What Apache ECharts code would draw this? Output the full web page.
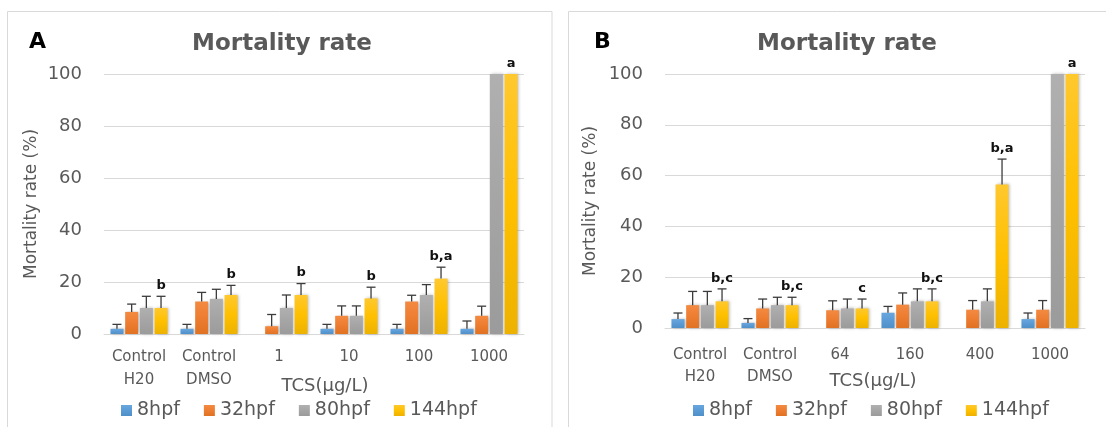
<!DOCTYPE html>
<html><head><meta charset="utf-8">
<script src="https://cdn.jsdelivr.net/npm/echarts@6/dist/echarts.min.js"></script>
<style>html,body{margin:0;padding:0;background:#fff}#c{width:1106px;height:427px}</style>
</head><body><div id="c"></div>
<script>
// ---- data ----
const seriesNames = ['8hpf', '32hpf', '80hpf', '144hpf'];
const categoriesA = ['Control\nH20', 'Control\nDMSO', '1', '10', '100', '1000'];
const categoriesB = ['Control\nH20', 'Control\nDMSO', '64', '160', '400', '1000'];
const yTicks = [0, 20, 40, 60, 80, 100];

const a8 = [2, 2, 0, 2, 2, 2];
const a8err = [1.7, 1.7, 0, 1.7, 1.7, 3];
const a32 = [8.5, 12.5, 3, 7, 12.5, 7];
const a32err = [3, 3.5, 4.5, 3.8, 2.4, 3.7];
const a80 = [10, 13.5, 10, 7, 15, 100];
const a80err = [4.5, 3.7, 5, 3.8, 4, 0];
const a144 = [10, 15, 15, 13.7, 21.3, 100];
const a144err = [4.5, 3.7, 4.4, 4.3, 4.4, 0];
const lettersA = ['b', 'b', 'b', 'b', 'b,a', 'a'];

const b8 = [3.5, 2, 0, 6, 0, 3.5];
const b8err = [2.4, 1.7, 0, 2.5, 0, 2.4];
const b32 = [9, 7.7, 7, 9.2, 7.2, 7.2];
const b32err = [5.4, 3.7, 3.7, 4.6, 3.6, 3.6];
const b80 = [9, 9, 7.7, 10.5, 10.5, 100];
const b80err = [5.4, 3.1, 3.7, 4.9, 4.9, 0];
const b144 = [10.5, 9, 7.7, 10.5, 56.5, 100];
const b144err = [4.9, 3.1, 3.7, 4.9, 10, 0];
const lettersB = ['b,c', 'b,c', 'c', 'b,c', 'b,a', 'a'];

// ---- styles ----
const FONT = 'DejaVu Sans';
const TXT = '#595959';
const GRID_LINE = '#d9d9d9';
const baseColors = ['#5B9BD5', '#ED7D31', '#A5A5A5', '#FFC000'];
const topColors = ['#68A6DE', '#F38A41', '#B0B0B0', '#FFC82E'];
const botColors = ['#5090C8', '#E07223', '#9B9B9B', '#EDB200'];
const BAR_W = 13, BAR_GAP = 0.13;
const STRIDE = BAR_W * (1 + BAR_GAP);

function barStyle(k) {
  return {
    color: new echarts.graphic.LinearGradient(0, 0, 0, 1, [
      {offset: 0, color: topColors[k]}, {offset: 0.5, color: baseColors[k]}, {offset: 1, color: botColors[k]}
    ]),
    shadowBlur: 3, shadowColor: 'rgba(0,0,0,0.28)', shadowOffsetX: 1.5, shadowOffsetY: 0
  };
}

function errRender(k, letters) {
  return function (params, api) {
    const i = api.value(0), v = api.value(1), e = api.value(2);
    const base = api.coord([i, v]);
    const top = api.coord([i, v + e]);
    const x = base[0] + (k - 1.5) * STRIDE;
    const ch = [];
    if (e > 0) {
      ch.push({type: 'line', shape: {x1: x, y1: base[1], x2: x, y2: top[1]}, style: {stroke: '#3c3c3c', lineWidth: 1.3}});
      ch.push({type: 'line', shape: {x1: x - 4.5, y1: top[1], x2: x + 4.5, y2: top[1]}, style: {stroke: '#3c3c3c', lineWidth: 1.3}});
    }
    const lab = letters ? letters[i] : '';
    if (lab) {
      ch.push({type: 'text', style: {text: lab, x: x, y: top[1] - 4, align: 'center', verticalAlign: 'bottom',
        font: 'bold 13px "' + FONT + '"', fill: '#111'}});
    }
    return {type: 'group', children: ch};
  };
}

function panelSeries(axisIdx, vals, errs, letters) {
  const out = [];
  vals.forEach((arr, k) => {
    out.push({
      name: seriesNames[k], type: 'bar', xAxisIndex: axisIdx, yAxisIndex: axisIdx,
      data: arr, barWidth: BAR_W, barGap: (BAR_GAP * 100) + '%',
      itemStyle: barStyle(k), emphasis: {disabled: true}, z: 2
    });
  });
  vals.forEach((arr, k) => {
    out.push({
      name: 'err' + axisIdx + '_' + k, type: 'custom', xAxisIndex: axisIdx, yAxisIndex: axisIdx,
      data: arr.map((v, i) => [i, v, errs[k][i]]),
      encode: {x: 0, y: 1}, renderItem: errRender(k, k === 3 ? letters : null), clip: false, z: 4,
      silent: true
    });
  });
  return out;
}

function xAxisCfg(idx, cats, margin, lh) {
  return {
    type: 'category', gridIndex: idx, data: cats,
    axisLine: {lineStyle: {color: GRID_LINE, width: 1}}, axisTick: {show: false},
    axisLabel: {color: TXT, fontFamily: FONT, fontSize: 15, lineHeight: lh, margin: margin, interval: 0}
  };
}
function yAxisCfg(idx, gap) {
  return {
    type: 'value', gridIndex: idx, min: yTicks[0], max: yTicks[yTicks.length - 1],
    interval: yTicks[1] - yTicks[0],
    axisLine: {show: false}, axisTick: {show: false},
    splitLine: {lineStyle: {color: GRID_LINE, width: 1}},
    axisLabel: {color: TXT, fontFamily: FONT, fontSize: 18, margin: 22},
    name: 'Mortality rate (%)', nameLocation: 'middle', nameGap: gap,
    nameTextStyle: {color: TXT, fontFamily: FONT, fontSize: 17}
  };
}
function legendCfg(left) {
  return {
    data: seriesNames, left: left, top: 401, padding: 0, itemWidth: 11, itemHeight: 11, itemGap: 24,
    icon: 'rect', selectedMode: false,
    itemStyle: {shadowBlur: 0, shadowOffsetX: 0},
    textStyle: {color: TXT, fontFamily: FONT, fontSize: 19}
  };
}

const chart = echarts.init(document.getElementById('c'));
chart.setOption({
  animation: false,
  backgroundColor: '#fff',
  color: baseColors,
  title: [
    {text: 'Mortality rate', left: 282, top: 33, textAlign: 'center', padding: 0,
      textStyle: {color: TXT, fontFamily: FONT, fontWeight: 'bold', fontSize: 23}},
    {text: 'Mortality rate', left: 847, top: 33, textAlign: 'center', padding: 0,
      textStyle: {color: TXT, fontFamily: FONT, fontWeight: 'bold', fontSize: 23}}
  ],
  grid: [
    {left: 104, top: 74, width: 420, height: 260},
    {left: 665, top: 74, width: 420, height: 254}
  ],
  xAxis: [xAxisCfg(0, categoriesA, 12, 23), xAxisCfg(1, categoriesB, 16, 22)],
  yAxis: [yAxisCfg(0, 64), yAxisCfg(1, 66)],
  legend: [legendCfg(121), legendCfg(693)],
  graphic: [
    {type: 'rect', silent: true, shape: {x: 7.5, y: 11.5, width: 544.5, height: 500}, style: {fill: 'none', stroke: GRID_LINE, lineWidth: 1}},
    {type: 'rect', silent: true, shape: {x: 568.5, y: 11.5, width: 560, height: 500}, style: {fill: 'none', stroke: GRID_LINE, lineWidth: 1}},
    {type: 'text', left: 29, top: 31, style: {text: 'A', font: 'bold 22px "' + FONT + '"', fill: '#000'}},
    {type: 'text', left: 594, top: 31, style: {text: 'B', font: 'bold 22px "' + FONT + '"', fill: '#000'}},
    {type: 'text', x: 325, y: 386, style: {text: 'TCS(µg/L)', align: 'center', verticalAlign: 'middle', font: '18px "' + FONT + '"', fill: TXT}},
    {type: 'text', x: 873, y: 381, style: {text: 'TCS(µg/L)', align: 'center', verticalAlign: 'middle', font: '18px "' + FONT + '"', fill: TXT}}
  ],
  series: [].concat(
    panelSeries(0, [a8, a32, a80, a144], [a8err, a32err, a80err, a144err], lettersA),
    panelSeries(1, [b8, b32, b80, b144], [b8err, b32err, b80err, b144err], lettersB)
  )
});
</script>
</body></html>
